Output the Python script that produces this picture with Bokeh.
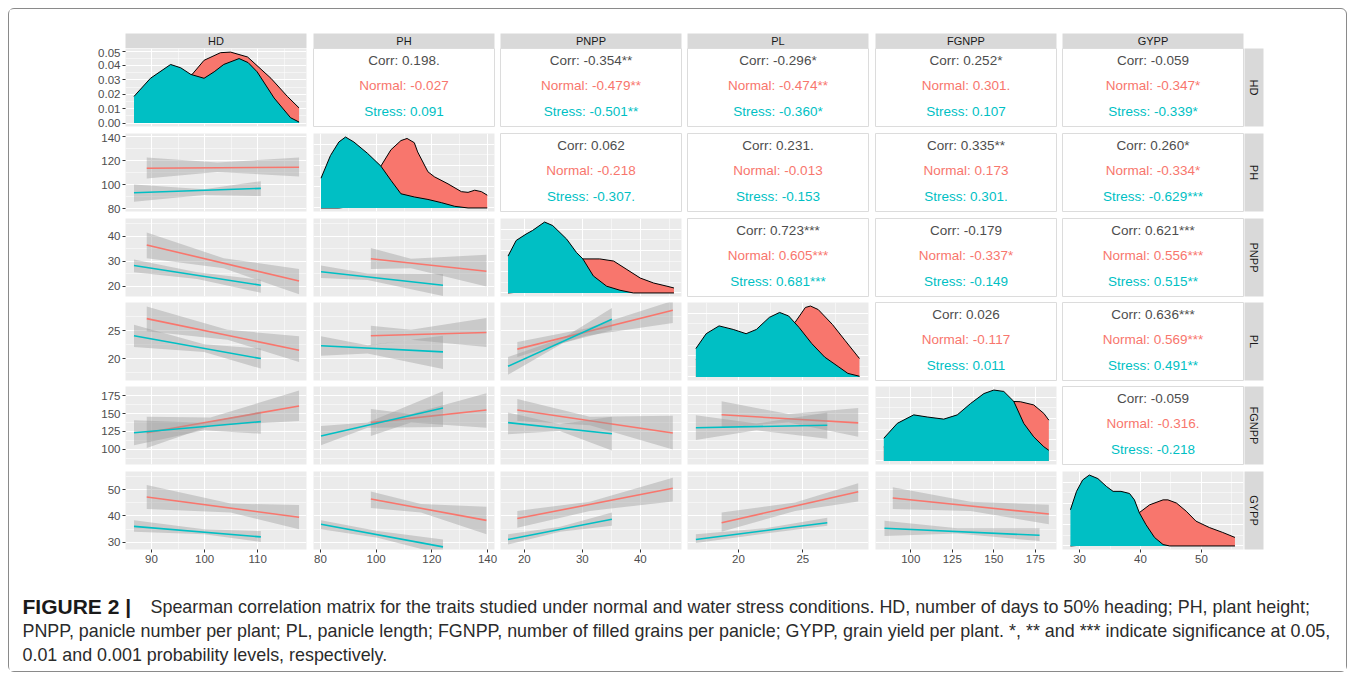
import math
from bokeh.plotting import figure
from bokeh.layouts import row, column
from bokeh.models import Range1d, FixedTicker, LinearAxis, Grid, ColumnDataSource, PrintfTickFormatter
from bokeh.core.properties import value
from bokeh.embed import file_html
from bokeh.resources import INLINE

# ----------------------------------------------------------------- data
TRAITS = ["HD", "PH", "PNPP", "PL", "FGNPP", "GYPP"]
GROUPS = ["Normal", "Stress"]
GROUP_COLORS = {"Normal": "#F8766D", "Stress": "#00BFC4"}

LIMITS = {"HD": (85.1, 119.2), "PH": (77.5, 142.5), "PNPP": (15.9, 47.1),
          "PL": (16.05, 30.1), "FGNPP": (78.8, 187.7), "GYPP": (27.2, 56.9)}
MAJOR_TICKS = {"HD": [90, 100, 110], "PH": [80, 100, 120, 140], "PNPP": [20, 30, 40],
               "PL": [20, 25], "FGNPP": [100, 125, 150, 175], "GYPP": [30, 40, 50]}
MINOR_TICKS = {"HD": [85, 95, 105, 115], "PH": [90, 110, 130], "PNPP": [25, 35, 45],
               "PL": [17.5, 22.5, 27.5], "FGNPP": [87.5, 112.5, 137.5, 162.5], "GYPP": [35, 45, 55]}
HD_DENSITY_LIMITS = (-0.0024, 0.0518)
HD_DENSITY_TICKS = [0.0, 0.01, 0.02, 0.03, 0.04, 0.05]
HD_DENSITY_MINOR = [0.005, 0.015, 0.025, 0.035, 0.045]
SCALED_DENSITY_LIMITS = (-0.05, 1.05)
SCALED_DENSITY_TICKS = [0.0, 0.3, 0.6, 0.9]
SCALED_DENSITY_MINOR = [0.15, 0.45, 0.75]

# diagonal densities (HD in density units, others scaled to their peak)
DENSITY_HD = {
    "Normal": ([86.7, 90.0, 93.6, 97.7, 99.9, 103.0, 104.9, 108.1, 112.5, 115.6, 117.8],
               [0.012, 0.020, 0.028, 0.034, 0.0436, 0.0489, 0.0493, 0.0459, 0.0311, 0.0185, 0.0105]),
    "Stress": ([86.7, 89.8, 93.6, 95.5, 97.4, 99.9, 101.8, 103.6, 106.5, 108.2, 109.9, 113.1, 116.2, 117.8],
               [0.0185, 0.0311, 0.0407, 0.0384, 0.0338, 0.0311, 0.0356, 0.0407, 0.0448, 0.042, 0.0356, 0.0174, 0.0037, 0.0007]),
}
DENSITY_PH = {
    "Normal": ([80.2, 86.6, 89.0, 92.0, 96.9, 101.7, 105.3, 108.9, 111.1, 113.7, 114.9, 118.6, 120.9, 125.8, 130.6, 133.0, 135.4, 137.8, 139.9],
               [0.0, 0.0, 0.01, 0.05, 0.25, 0.59, 0.82, 0.95, 0.98, 0.92, 0.79, 0.51, 0.44, 0.34, 0.23, 0.22, 0.25, 0.23, 0.18]),
    "Stress": ([80.2, 83.6, 86.6, 89.0, 92.0, 96.9, 101.7, 105.3, 108.9, 113.7, 118.6, 123.4, 128.2, 133.0, 139.9],
               [0.42, 0.74, 0.93, 1.0, 0.93, 0.77, 0.59, 0.39, 0.20, 0.155, 0.12, 0.075, 0.023, 0.0, 0.0]),
}
DENSITY_PNPP = {
    "Normal": ([17.2, 20.3, 23.5, 27.3, 29.0, 30.1, 33.0, 35.4, 37.7, 40.0, 42.3, 44.6, 45.8],
               [0.0, 0.02, 0.1, 0.3, 0.42, 0.48, 0.48, 0.45, 0.33, 0.21, 0.14, 0.095, 0.07]),
    "Stress": ([17.2, 18.6, 20.3, 21.4, 23.5, 24.9, 27.3, 29.0, 30.1, 31.9, 34.2, 36.5, 38.8, 45.8],
               [0.52, 0.74, 0.83, 0.88, 1.0, 0.95, 0.76, 0.57, 0.48, 0.24, 0.095, 0.038, 0.0, 0.0]),
}
DENSITY_PL = {
    "Normal": ([16.7, 19.6, 22.4, 24.4, 25.2, 25.6, 26.2, 27.3, 28.3, 29.4],
               [0.25, 0.45, 0.6, 0.77, 0.98, 1.0, 0.95, 0.74, 0.51, 0.26]),
    "Stress": ([16.7, 17.5, 18.5, 19.6, 20.6, 21.4, 22.4, 23.2, 23.9, 24.7, 25.7, 26.7, 27.8, 28.5, 29.4],
               [0.40, 0.61, 0.72, 0.67, 0.61, 0.67, 0.84, 0.91, 0.86, 0.70, 0.47, 0.28, 0.14, 0.05, 0.01]),
}
DENSITY_FGNPP = {
    "Normal": ([83.8, 101.8, 119.9, 136.0, 150.0, 161.1, 166.0, 174.0, 180.1, 183.1],
               [0.2, 0.45, 0.5, 0.6, 0.78, 0.84, 0.835, 0.79, 0.67, 0.575]),
    "Stress": ([83.8, 91.9, 101.8, 109.9, 119.9, 128.0, 136.0, 144.0, 150.0, 156.0, 162.0, 168.0, 174.0, 180.1, 183.1],
               [0.32, 0.53, 0.65, 0.62, 0.59, 0.65, 0.81, 0.95, 1.0, 0.98, 0.84, 0.53, 0.34, 0.20, 0.15]),
}
DENSITY_GYPP = {
    "Normal": ([28.5, 31.6, 34.4, 36.8, 38.2, 39.8, 41.5, 43.7, 44.5, 45.9, 47.5, 49.1, 51.3, 53.5, 55.5],
               [0.0, 0.02, 0.1, 0.2, 0.3, 0.47, 0.58, 0.65, 0.65, 0.605, 0.49, 0.35, 0.26, 0.19, 0.12]),
    "Stress": ([28.5, 29.5, 30.5, 31.6, 33.0, 34.4, 35.5, 36.8, 38.2, 39.0, 39.8, 40.9, 42.3, 43.7, 44.8, 55.5],
               [0.51, 0.77, 0.93, 1.0, 0.95, 0.84, 0.77, 0.77, 0.74, 0.65, 0.47, 0.30, 0.12, 0.02, 0.0, 0.0]),
}
DENSITIES = {"HD": DENSITY_HD, "PH": DENSITY_PH, "PNPP": DENSITY_PNPP,
             "PL": DENSITY_PL, "FGNPP": DENSITY_FGNPP, "GYPP": DENSITY_GYPP}

# linear fits (lower panels): line end points + confidence band at start / narrowest / end
FIT_PH_HD = {"Normal": dict(x=[89.1, 102.4, 117.8], y=[113.6, 114.4], lo=[105.0, 110.5, 106.6], hi=[122.4, 118.3, 122.4]),
             "Stress": dict(x=[86.7, 99.9, 110.6], y=[93.1, 96.8], lo=[85.7, 91.2, 90.4], hi=[100.1, 96.0, 102.8])}
FIT_PNPP_HD = {"Normal": dict(x=[89.1, 103.6, 117.8], y=[36.5, 22.1], lo=[31.2, 27.2, 16.8], hi=[41.5, 31.2, 26.9]),
               "Stress": dict(x=[86.7, 98.6, 110.6], y=[28.3, 20.4], lo=[25.6, 22.9, 17.4], hi=[30.7, 25.6, 22.6])}
FIT_PL_HD = {"Normal": dict(x=[89.1, 104.3, 117.8], y=[27.2, 21.5], lo=[24.9, 23.4, 19.4], hi=[29.4, 25.2, 24.0]),
             "Stress": dict(x=[86.7, 99.9, 110.6], y=[24.1, 20.0], lo=[22.1, 21.2, 18.2], hi=[26.1, 22.6, 21.8])}
FIT_FGNPP_HD = {"Normal": dict(x=[89.1, 101.1, 117.8], y=[123.2, 160.4], lo=[102.0, 132.6, 139.7], hi=[145.3, 144.4, 182.1]),
                "Stress": dict(x=[86.7, 99.9, 110.6], y=[123.2, 138.7], lo=[105.8, 126.5, 121.8], hi=[140.7, 137.0, 152.8])}
FIT_GYPP_HD = {"Normal": dict(x=[89.1, 104.9, 117.8], y=[47.2, 39.5], lo=[42.6, 41.3, 34.9], hi=[51.8, 44.7, 44.1]),
               "Stress": dict(x=[86.7, 99.9, 110.6], y=[36.0, 32.0], lo=[34.0, 33.0, 30.1], hi=[38.3, 34.9, 34.2])}
FIT_PNPP_PH = {"Normal": dict(x=[98.1, 112.5, 139.6], y=[31.0, 26.0], lo=[26.9, 27.2, 19.9], hi=[35.3, 31.0, 32.6]),
               "Stress": dict(x=[80.2, 96.9, 124.0], y=[25.8, 20.4], lo=[23.3, 22.5, 16.1], hi=[28.3, 25.1, 24.9])}
FIT_PL_PH = {"Normal": dict(x=[98.1, 112.5, 139.6], y=[24.1, 24.7], lo=[22.4, 23.4, 22.1], hi=[25.9, 25.2, 27.3]),
             "Stress": dict(x=[80.2, 96.9, 124.0], y=[22.3, 21.2], lo=[20.5, 20.9, 18.1], hi=[24.0, 22.4, 24.1])}
FIT_FGNPP_PH = {"Normal": dict(x=[98.1, 112.5, 139.6], y=[137.3, 154.8], lo=[118.5, 137.3, 130.2], hi=[156.2, 149.2, 178.3]),
                "Stress": dict(x=[80.2, 96.9, 124.0], y=[118.5, 157.6], lo=[105.8, 130.2, 131.2], hi=[132.6, 137.3, 181.1])}
FIT_GYPP_PH = {"Normal": dict(x=[98.1, 116.1, 139.6], y=[46.4, 38.3], lo=[43.0, 41.3, 33.0], hi=[49.3, 44.5, 43.5]),
               "Stress": dict(x=[80.2, 100.5, 124.0], y=[36.8, 28.2], lo=[34.9, 31.7, 25.3], hi=[38.3, 34.2, 31.0])}
FIT_PL_PNPP = {"Normal": dict(x=[18.8, 30.7, 45.6], y=[21.7, 28.7], lo=[20.3, 24.1, 26.4], hi=[23.0, 25.4, 30.4]),
               "Stress": dict(x=[17.2, 26.7, 35.1], y=[18.6, 27.1], lo=[17.1, 22.8, 25.1], hi=[20.3, 23.7, 29.1])}
FIT_FGNPP_PNPP = {"Normal": dict(x=[18.8, 31.3, 45.6], y=[154.8, 122.7], lo=[139.7, 133.5, 99.7], hi=[170.3, 145.5, 146.8]),
                  "Stress": dict(x=[17.2, 26.1, 35.1], y=[137.3, 121.8], lo=[120.9, 125.6, 98.3], hi=[151.4, 135.0, 145.3])}
FIT_GYPP_PNPP = {"Normal": dict(x=[18.8, 31.3, 45.6], y=[39.0, 50.5], lo=[35.5, 41.9, 45.5], hi=[41.9, 45.4, 54.5]),
                 "Stress": dict(x=[17.2, 26.2, 35.1], y=[31.0, 38.7], lo=[29.1, 34.0, 36.2], hi=[33.0, 35.9, 41.3])}
FIT_FGNPP_PL = {"Normal": dict(x=[18.7, 23.9, 29.3], y=[148.2, 136.9], lo=[130.2, 137.3, 117.5], hi=[167.0, 149.2, 157.6]),
                "Stress": dict(x=[16.7, 21.4, 26.9], y=[130.2, 133.6], lo=[112.9, 126.5, 114.7], hi=[147.7, 135.9, 151.4])}
FIT_GYPP_PL = {"Normal": dict(x=[18.7, 24.4, 29.3], y=[37.4, 49.2], lo=[34.0, 41.9, 45.5], hi=[41.3, 45.1, 52.4]),
               "Stress": dict(x=[16.7, 22.1, 26.9], y=[31.0, 37.4], lo=[29.7, 33.3, 36.2], hi=[33.0, 35.3, 39.3])}
FIT_GYPP_FGNPP = {"Normal": dict(x=[89.2, 136.0, 183.1], y=[46.8, 40.7], lo=[42.6, 41.9, 36.8], hi=[50.9, 45.4, 44.2]),
                  "Stress": dict(x=[84.2, 128.0, 177.5], y=[35.3, 32.6], lo=[32.3, 33.3, 30.4], hi=[38.1, 35.3, 35.3])}
FITS = {("PH", "HD"): FIT_PH_HD, ("PNPP", "HD"): FIT_PNPP_HD, ("PL", "HD"): FIT_PL_HD,
        ("FGNPP", "HD"): FIT_FGNPP_HD, ("GYPP", "HD"): FIT_GYPP_HD,
        ("PNPP", "PH"): FIT_PNPP_PH, ("PL", "PH"): FIT_PL_PH, ("FGNPP", "PH"): FIT_FGNPP_PH,
        ("GYPP", "PH"): FIT_GYPP_PH, ("PL", "PNPP"): FIT_PL_PNPP, ("FGNPP", "PNPP"): FIT_FGNPP_PNPP,
        ("GYPP", "PNPP"): FIT_GYPP_PNPP, ("FGNPP", "PL"): FIT_FGNPP_PL, ("GYPP", "PL"): FIT_GYPP_PL,
        ("GYPP", "FGNPP"): FIT_GYPP_FGNPP}

# upper panels: (overall, normal, stress) correlation labels
CORR = {
    ("HD", "PH"): ("0.198.", "-0.027", "0.091"),
    ("HD", "PNPP"): ("-0.354**", "-0.479**", "-0.501**"),
    ("HD", "PL"): ("-0.296*", "-0.474**", "-0.360*"),
    ("HD", "FGNPP"): ("0.252*", "0.301.", "0.107"),
    ("HD", "GYPP"): ("-0.059", "-0.347*", "-0.339*"),
    ("PH", "PNPP"): ("0.062", "-0.218", "-0.307."),
    ("PH", "PL"): ("0.231.", "-0.013", "-0.153"),
    ("PH", "FGNPP"): ("0.335**", "0.173", "0.301."),
    ("PH", "GYPP"): ("0.260*", "-0.334*", "-0.629***"),
    ("PNPP", "PL"): ("0.723***", "0.605***", "0.681***"),
    ("PNPP", "FGNPP"): ("-0.179", "-0.337*", "-0.149"),
    ("PNPP", "GYPP"): ("0.621***", "0.556***", "0.515**"),
    ("PL", "FGNPP"): ("0.026", "-0.117", "0.011"),
    ("PL", "GYPP"): ("0.636***", "0.569***", "0.491**"),
    ("FGNPP", "GYPP"): ("-0.059", "-0.316.", "-0.218"),
}

CAPTION_BOLD = "FIGURE 2 |"
CAPTION_LINES = [
    "Spearman correlation matrix for the traits studied under normal and water stress conditions. HD, number of days to 50% heading; PH, plant height;",
    "PNPP, panicle number per plant; PL, panicle length; FGNPP, number of filled grains per panicle; GYPP, grain yield per plant. *, ** and *** indicate significance at 0.05,",
    "0.01 and 0.001 probability levels, respectively.",
]

# ----------------------------------------------------------------- layout constants
FONT = "Liberation Sans"
FRAME_W, FRAME_H = 181, 78
LEFT_PAD = 116
COL_GAP = [7, 6, 6, 7, 6, 1]
ROW_GAP = [7, 7, 6, 6, 7]
BOTTOM_AXIS_H = 24
STRIP_W, RIGHT_PAD = 19, 83
TOP_PAD, STRIP_H = 24, 15
TOTAL_W = LEFT_PAD + sum(FRAME_W + g for g in COL_GAP) + STRIP_W + RIGHT_PAD
PANEL_BG = "#EBEBEB"
STRIP_BG = "#D9D9D9"


def make_fig(i, j, xr, yr, bg, outline=None):
    left = LEFT_PAD if j == 0 else 0
    right = COL_GAP[j]
    bottom = ROW_GAP[i] if i < 5 else BOTTOM_AXIS_H
    p = figure(width=left + FRAME_W + right, height=FRAME_H + bottom,
               x_range=Range1d(*xr), y_range=Range1d(*yr),
               toolbar_location=None, output_backend="svg",
               x_axis_location=None, y_axis_location=None,
               min_border_left=left, min_border_right=right,
               min_border_top=0, min_border_bottom=bottom,
               background_fill_color=bg, border_fill_color="white",
               outline_line_color=outline)
    for g in p.grid:
        g.visible = False
    return p


def add_grid(p, dim, major, minor):
    p.add_layout(Grid(dimension=dim, ticker=FixedTicker(ticks=major, minor_ticks=minor),
                      grid_line_color="white", grid_line_width=1.1,
                      minor_grid_line_color="white", minor_grid_line_width=0.5), "center")


def add_axis(p, where, ticks, fmt=None):
    ax = LinearAxis(ticker=FixedTicker(ticks=ticks, minor_ticks=[]),
                    axis_line_color=None, major_tick_line_color="#333333",
                    major_tick_out=3, major_tick_in=0, minor_tick_line_color=None,
                    major_label_text_font=FONT, major_label_text_font_size="11.5px",
                    major_label_text_color="#4D4D4D", major_label_standoff=2)
    if fmt:
        ax.formatter = PrintfTickFormatter(format=fmt)
    p.add_layout(ax, where)


rows = []

# top strips
strip_figs = []
for j, t in enumerate(TRAITS):
    left = LEFT_PAD if j == 0 else 0
    s = figure(width=left + FRAME_W + COL_GAP[j], height=TOP_PAD + STRIP_H,
               x_range=Range1d(0, 1), y_range=Range1d(0, 1),
               toolbar_location=None, output_backend="svg",
               x_axis_location=None, y_axis_location=None,
               min_border_left=left, min_border_right=COL_GAP[j],
               min_border_top=TOP_PAD, min_border_bottom=0,
               background_fill_color=STRIP_BG, border_fill_color="white", outline_line_color=None)
    for g in s.grid:
        g.visible = False
    s.text(x=[0.5], y=[0.5], text=[t], text_align="center", text_baseline="middle",
           text_font=value(FONT), text_font_size="11px", text_color="#1A1A1A")
    strip_figs.append(s)
rows.append(row(strip_figs))

for i, rv in enumerate(TRAITS):
    figs = []
    for j, cv in enumerate(TRAITS):
        if i == j:
            yr = HD_DENSITY_LIMITS if rv == "HD" else SCALED_DENSITY_LIMITS
            p = make_fig(i, j, LIMITS[cv], yr, PANEL_BG)
            add_grid(p, 0, MAJOR_TICKS[cv], MINOR_TICKS[cv])
            if rv == "HD":
                add_grid(p, 1, HD_DENSITY_TICKS, HD_DENSITY_MINOR)
            else:
                add_grid(p, 1, SCALED_DENSITY_TICKS, SCALED_DENSITY_MINOR)
            for g in GROUPS:
                xs, ys = DENSITIES[rv][g]
                p.varea(x=xs, y1=0, y2=ys, fill_color=GROUP_COLORS[g], fill_alpha=1.0)
                p.line(x=xs, y=ys, line_color="black", line_width=1.0)
        elif i > j:
            p = make_fig(i, j, LIMITS[cv], LIMITS[rv], PANEL_BG)
            add_grid(p, 0, MAJOR_TICKS[cv], MINOR_TICKS[cv])
            add_grid(p, 1, MAJOR_TICKS[rv], MINOR_TICKS[rv])
            fit = FITS[(rv, cv)]
            for g in GROUPS:
                f = fit[g]
                p.varea(x=f["x"], y1=f["lo"], y2=f["hi"], fill_color="#999999", fill_alpha=0.4)
                p.line(x=[f["x"][0], f["x"][-1]], y=f["y"], line_color=GROUP_COLORS[g], line_width=1.6)
        else:
            p = make_fig(i, j, (0, 1), (0, 1), "white", outline="#DCDCDC")
            c = CORR[(rv, cv)]
            src = ColumnDataSource(dict(
                x=[0.5, 0.5, 0.5], y=[0.846, 0.526, 0.192],
                text=["Corr: " + c[0], "Normal: " + c[1], "Stress: " + c[2]],
                color=["#4D4D4D", GROUP_COLORS["Normal"], GROUP_COLORS["Stress"]]))
            p.text(x="x", y="y", text="text", text_color="color", source=src,
                   text_align="center", text_baseline="middle",
                   text_font=value(FONT), text_font_size="13.5px")
        if j == 0:
            if rv == "HD":
                add_axis(p, "left", HD_DENSITY_TICKS, "%.2f")
            else:
                add_axis(p, "left", MAJOR_TICKS[rv])
        if i == 5:
            add_axis(p, "below", MAJOR_TICKS[cv])
        figs.append(p)
    # right strip
    bottom = ROW_GAP[i] if i < 5 else BOTTOM_AXIS_H
    s = figure(width=STRIP_W + RIGHT_PAD, height=FRAME_H + bottom,
               x_range=Range1d(0, 1), y_range=Range1d(0, 1),
               toolbar_location=None, output_backend="svg",
               x_axis_location=None, y_axis_location=None,
               min_border_left=0, min_border_right=RIGHT_PAD,
               min_border_top=0, min_border_bottom=bottom,
               background_fill_color=STRIP_BG, border_fill_color="white", outline_line_color=None)
    for g in s.grid:
        g.visible = False
    s.text(x=[0.5], y=[0.5], text=[rv], angle=-math.pi / 2, text_align="center",
           text_baseline="middle", text_font=value(FONT), text_font_size="11px",
           text_color="#1A1A1A")
    figs.append(s)
    rows.append(row(figs))

# caption
CAP_H = 98
cap = figure(width=TOTAL_W, height=CAP_H, x_range=Range1d(0, TOTAL_W), y_range=Range1d(CAP_H, 0),
             toolbar_location=None, output_backend="svg",
             x_axis_location=None, y_axis_location=None,
             min_border_left=0, min_border_right=0, min_border_top=0, min_border_bottom=0,
             background_fill_color="white", border_fill_color="white", outline_line_color=None)
for g in cap.grid:
    g.visible = False
cap.text(x=[13], y=[33], text=[CAPTION_BOLD], text_baseline="middle", text_align="left",
         text_font=value(FONT), text_font_style="bold", text_font_size="21px", text_color="#1A1A1A")
cap.text(x=[141, 13, 13], y=[33, 57, 81], text=CAPTION_LINES, text_baseline="middle",
         text_align="left", text_font=value(FONT), text_font_size="17.9px", text_color="#2B2B2B")
rows.append(cap)

layout = column(rows, margin=(8, 0, 0, 8),
                styles={"border": "1px solid #8A8A8A", "border-radius": "6px"})

open("out.html", "w").write(file_html(layout, INLINE))
